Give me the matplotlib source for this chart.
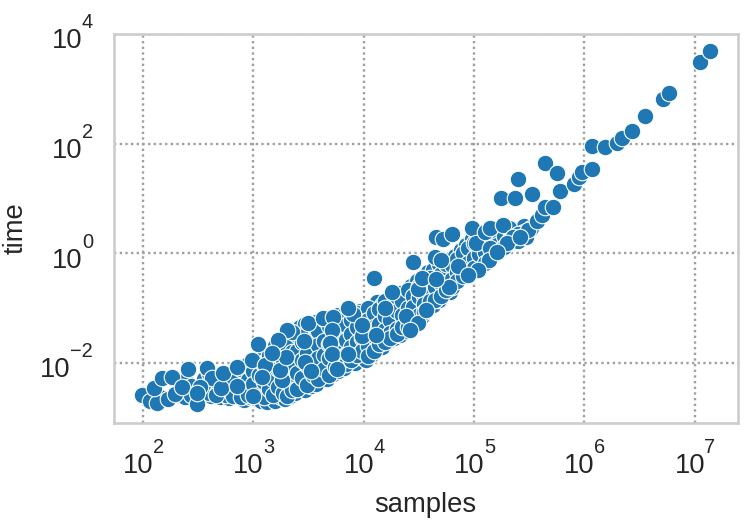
import numpy as np
import matplotlib
matplotlib.use('Agg')
import matplotlib.pyplot as plt

# values, kept as powers of ten
dense_x = [
    2.62, 2.62, 2.70, 2.70, 2.78, 2.78, 2.78, 2.86, 2.86, 2.86,
    2.92, 2.92, 2.92, 2.92, 2.97, 2.97, 2.97, 3.03, 3.03, 3.03, 3.03,
    3.07, 3.07, 3.07, 3.07, 3.12, 3.12, 3.12, 3.12, 3.16, 3.16, 3.16,
    3.20, 3.20, 3.20, 3.20, 3.20, 3.25, 3.25, 3.25, 3.25, 3.25,
    3.29, 3.29, 3.29, 3.29, 3.29, 3.29, 3.33, 3.33, 3.33, 3.33, 3.33,
    3.38, 3.38, 3.38, 3.38, 3.38, 3.42, 3.42, 3.42, 3.42, 3.42,
    3.47, 3.47, 3.47, 3.47, 3.52, 3.52, 3.52, 3.52, 3.52,
    3.57, 3.57, 3.57, 3.57, 3.57, 3.62, 3.62, 3.62, 3.62, 3.62,
    3.67, 3.67, 3.67, 3.67, 3.67, 3.72, 3.72, 3.72, 3.72,
    3.77, 3.77, 3.77, 3.77, 3.77, 3.82, 3.82, 3.82, 3.82, 3.82,
    3.87, 3.87, 3.87, 3.87, 3.92, 3.92, 3.92, 3.92,
    3.97, 3.97, 3.97, 3.97, 4.02, 4.02, 4.02, 4.02, 4.02,
    4.07, 4.07, 4.07, 4.07, 4.12, 4.12, 4.12, 4.12,
    4.17, 4.17, 4.17, 4.17, 4.22, 4.22, 4.22, 4.22,
    4.28, 4.28, 4.28, 4.28, 4.33, 4.33, 4.33, 4.33,
    4.38, 4.38, 4.38, 4.38, 4.43, 4.43, 4.43, 4.43,
    4.48, 4.48, 4.48, 4.48, 4.53, 4.53, 4.53, 4.53,
    4.58, 4.58, 4.58, 4.58, 4.63, 4.63, 4.63, 4.63,
    4.68, 4.68, 4.68, 4.68, 4.73, 4.73, 4.73,
    4.78, 4.78, 4.78, 4.78, 4.83, 4.83, 4.83,
    4.88, 4.88, 4.88, 4.93, 4.93, 4.93, 4.98, 4.98, 4.98,
    5.03, 5.03, 5.03, 5.08, 5.08, 5.08, 5.13, 5.13, 5.13,
    5.18, 5.18, 5.23, 5.23, 5.23, 5.28, 5.28, 5.33, 5.33,
    5.38, 5.38, 5.45, 5.45,
]
dense_y = [
    -2.45, -2.60, -2.33, -2.62, -2.25, -2.50, -2.64, -2.20, -2.37, -2.58,
    -2.10, -2.30, -2.52, -2.68, -2.20, -2.44, -2.63, -2.05, -2.33, -2.50, -2.66,
    -1.90, -2.15, -2.42, -2.70, -1.95, -2.28, -2.55, -2.72, -2.10, -2.40, -2.62,
    -1.70, -1.95, -2.20, -2.50, -2.70, -1.60, -1.85, -2.05, -2.40, -2.62,
    -1.50, -1.75, -2.00, -2.25, -2.52, -2.66, -1.60, -1.90, -2.15, -2.42, -2.60,
    -1.45, -1.70, -2.00, -2.30, -2.55, -1.35, -1.55, -1.85, -2.10, -2.45,
    -1.30, -1.75, -2.20, -2.50, -1.42, -1.65, -1.90, -2.30, -2.42,
    -1.25, -1.55, -1.80, -2.05, -2.38, -1.30, -1.50, -1.70, -1.95, -2.25,
    -1.22, -1.45, -1.75, -2.00, -2.30, -1.30, -1.55, -1.90, -2.20,
    -1.12, -1.35, -1.62, -1.85, -2.15, -1.20, -1.45, -1.70, -1.98, -2.10,
    -1.15, -1.38, -1.60, -1.90, -1.25, -1.50, -1.75, -2.00,
    -1.05, -1.40, -1.65, -1.90, -1.10, -1.30, -1.55, -1.80, -1.95,
    -1.00, -1.20, -1.60, -1.85, -0.90, -1.15, -1.40, -1.70,
    -0.95, -1.25, -1.50, -1.72, -0.85, -1.10, -1.35, -1.60,
    -0.90, -1.15, -1.30, -1.55, -0.72, -1.00, -1.25, -1.50,
    -0.75, -0.90, -1.30, -1.42, -0.60, -0.85, -1.10, -1.25,
    -0.50, -0.90, -1.05, -1.20, -0.70, -0.85, -1.00, -1.15,
    -0.35, -0.60, -0.80, -0.95, -0.30, -0.55, -0.75, -0.95,
    -0.20, -0.60, -0.70, -0.85, -0.30, -0.45, -0.75,
    -0.10, -0.35, -0.55, -0.70, -0.05, -0.20, -0.45,
    0.05, -0.15, -0.35, 0.15, -0.10, -0.30, 0.25, 0.00, -0.20,
    0.30, 0.05, -0.15, 0.30, 0.10, -0.10, 0.35, 0.20, -0.02,
    0.35, 0.15, 0.40, 0.20, 0.10, 0.38, 0.25, 0.40, 0.30,
    0.42, 0.28, 0.50, 0.38,
]

fill_x = [
    2.03, 2.08, 2.08, 2.15, 2.32, 2.38, 2.38, 2.44, 2.44,
    2.55, 2.55, 2.60, 2.60, 2.68, 2.68, 2.75, 2.75, 2.82, 2.82,
    2.89, 2.89, 2.89, 2.95, 2.95, 2.95, 3.00, 3.00, 3.05, 3.05,
    3.10, 3.10, 3.10, 3.14, 3.14, 3.14, 3.18, 3.18, 3.18,
    3.22, 3.22, 3.22, 3.27, 3.27, 3.27, 3.27, 3.31, 3.31, 3.31, 3.31,
    3.35, 3.35, 3.35, 3.40, 3.40, 3.40, 3.40, 3.44, 3.44, 3.44,
    3.49, 3.49, 3.49, 3.49, 3.54, 3.54, 3.54, 3.54, 3.59, 3.59, 3.59, 3.59,
    3.64, 3.64, 3.64, 3.64, 3.69, 3.69, 3.69, 3.69, 3.74, 3.74, 3.74, 3.74,
    3.79, 3.79, 3.79, 3.79, 3.84, 3.84, 3.84, 3.84, 3.84,
    3.89, 3.89, 3.89, 3.89, 3.94, 3.94, 3.94, 3.94, 3.99, 3.99, 3.99,
    4.04, 4.04, 4.04, 4.04, 4.04, 4.09, 4.09, 4.09, 4.09,
    4.14, 4.14, 4.14, 4.14, 4.19, 4.19, 4.19, 4.19, 4.24, 4.24, 4.24, 4.24,
    4.30, 4.30, 4.30, 4.30, 4.35, 4.35, 4.35, 4.40, 4.40, 4.40, 4.40,
    4.45, 4.45, 4.45, 4.50, 4.50, 4.50, 4.55, 4.55, 4.55, 4.55,
    4.60, 4.60, 4.60, 4.65, 4.65, 4.70, 4.70, 4.70, 4.75, 4.75, 4.75,
    4.80, 4.80, 4.80, 4.85, 4.85, 4.85, 4.90, 4.90, 4.90, 4.95, 4.95,
    5.00, 5.00, 5.00, 5.05, 5.05, 5.10, 5.10, 5.10, 5.16, 5.16,
    5.21, 5.21, 5.27, 5.27, 5.32, 5.32, 5.40, 5.40, 5.47, 5.52,
]
fill_y = [
    -2.62, -2.66, -2.55, -2.62, -2.58, -2.62, -2.32, -2.42, -2.58,
    -2.30, -2.52, -2.18, -2.55, -2.28, -2.52, -2.38, -2.58, -2.30, -2.60,
    -2.12, -2.44, -2.62, -2.02, -2.32, -2.58, -2.15, -2.38, -2.22, -2.58,
    -2.05, -2.35, -2.62, -1.85, -2.18, -2.48, -2.02, -2.30, -2.58,
    -1.78, -2.12, -2.44, -1.55, -1.95, -2.30, -2.55, -1.68, -2.08, -2.35, -2.60,
    -1.80, -2.05, -2.50, -1.50, -1.78, -2.18, -2.48, -1.62, -1.95, -2.28,
    -1.48, -1.82, -2.05, -2.40, -1.32, -1.58, -1.98, -2.22, -1.42, -1.68, -1.92, -2.30,
    -1.20, -1.60, -1.85, -2.12, -1.33, -1.65, -1.92, -2.22, -1.18, -1.45, -1.78, -2.08,
    -1.25, -1.52, -1.90, -2.05, -1.08, -1.32, -1.58, -1.85, -2.02,
    -1.22, -1.48, -1.72, -1.95, -1.10, -1.35, -1.62, -1.85, -1.18, -1.55, -1.78,
    -1.00, -1.22, -1.45, -1.70, -1.88, -1.10, -1.35, -1.52, -1.78,
    -1.02, -1.30, -1.55, -1.65, -0.88, -1.15, -1.40, -1.62, -0.98, -1.22, -1.45, -1.55,
    -0.80, -1.05, -1.38, -1.48, -0.88, -1.12, -1.35, -0.68, -1.00, -1.20, -1.35,
    -0.78, -0.98, -1.18, -0.60, -0.80, -1.12, -0.50, -0.78, -0.92, -1.08,
    -0.45, -0.70, -0.88, -0.62, -0.85, -0.38, -0.55, -0.78, -0.20, -0.60, -0.68,
    -0.22, -0.48, -0.62, -0.10, -0.35, -0.50, 0.00, -0.25, -0.42, 0.10, -0.18,
    0.18, -0.08, -0.28, 0.20, -0.02, 0.22, 0.02, -0.18, 0.28, -0.05,
    0.30, 0.15, 0.32, 0.12, 0.45, 0.22, 0.35, 0.22, 0.30, 0.45,
]

top_x = [
    1.99, 2.06, 2.13, 2.10, 2.17, 2.26, 2.23, 2.29, 2.35, 2.41,
    2.58, 2.63, 2.52, 2.49, 2.49, 2.66, 2.71, 2.73, 2.85, 2.85,
    3.00, 3.04, 2.99, 3.11, 3.08, 3.26, 3.24, 3.30, 3.35, 3.31,
    3.22, 3.17, 3.46, 3.50, 3.47, 3.52, 3.63, 3.72, 3.71, 3.70,
    3.71, 3.76, 3.86, 3.90, 3.86, 3.99, 3.99, 4.11, 4.19, 4.26,
    4.09, 4.38, 4.49, 4.42, 4.45, 4.49, 4.53, 4.57, 4.65, 4.70,
    4.66, 4.72, 4.80, 4.98, 5.02, 5.10, 5.15, 5.15, 5.14, 4.86,
    5.04, 4.95, 4.77, 4.66, 5.26, 5.35, 5.30, 5.21, 5.49, 5.42,
    5.57, 5.62, 5.64, 5.72, 5.25, 5.37, 5.53, 5.40, 5.64, 5.75,
    5.78, 5.91, 5.95, 5.98, 6.07, 6.07, 6.19, 6.30, 6.34, 6.43,
    6.55, 6.71, 6.77, 7.05, 7.14,
]
top_y = [
    -2.59, -2.69, -2.73, -2.46, -2.28, -2.26, -2.66, -2.57, -2.44, -2.11,
    -2.09, -2.28, -2.44, -2.75, -2.55, -2.59, -2.46, -2.19, -2.42, -2.08,
    -2.61, -1.66, -1.95, -2.04, -2.26, -2.31, -2.13, -1.89, -1.44, -1.40,
    -1.58, -1.82, -1.61, -1.27, -1.99, -2.15, -1.18, -1.16, -1.40, -1.64,
    -1.84, -2.11, -1.84, -1.11, -1.00, -1.51, -1.31, -1.49, -1.00, -0.71,
    -0.45, -1.15, -1.27, -1.40, -0.16, -0.65, -0.45, -1.04, -0.07, -0.12,
    0.30, 0.26, 0.35, 0.46, 0.19, 0.39, 0.46, 0.09, -0.12, -0.23,
    -0.30, -0.40, -0.62, -0.47, 0.51, 0.30, 0.19, 0.02, 0.42, 0.30,
    0.59, 0.70, 0.84, 0.84, 1.01, 1.01, 1.08, 1.35, 1.65, 1.46,
    1.13, 1.26, 1.39, 1.48, 1.54, 1.96, 1.94, 2.01, 2.10, 2.23,
    2.50, 2.81, 2.92, 3.49, 3.69,
]

x_powers = [2, 3, 4, 5, 6, 7]
y_powers = [-2, 0, 2, 4]

plt.rcParams['font.family'] = ['Liberation Sans', 'DejaVu Sans']
TEXT_COLOR = '#262626'
PX = 0.72  # offsets below are in pixels at dpi 100


def power_label(ax, xy, transform, base_dx, exp_dx, dy, power):
    # "10" and the exponent are separate so the exponent sits clear of the digits
    ax.annotate('10', xy=xy, xycoords=transform,
                xytext=(base_dx * PX, dy * PX), textcoords='offset points', ha='right', va='baseline',
                fontsize=19.7, color=TEXT_COLOR, annotation_clip=False)
    ax.annotate(str(power).replace('-', '\u2212'), xy=xy, xycoords=transform,
                xytext=(exp_dx * PX, (dy + 20) * PX), textcoords='offset points', ha='right', va='baseline',
                fontsize=14.4, color=TEXT_COLOR, annotation_clip=False)


fig = plt.figure(figsize=(7.48, 5.29), dpi=100)
ax = fig.add_axes([113.5 / 748, 1 - 423 / 529, (738 - 113.5) / 748, (423 - 34) / 529])

samples = 10.0 ** np.array(dense_x + fill_x + top_x)
times = 10.0 ** np.array(dense_y + fill_y + top_y)
ax.scatter(samples, times, s=142, color='#1f77b4', edgecolors='white', linewidths=0.8, zorder=3)

ax.set_xscale('log')
ax.set_yscale('log')
ax.set_xlim(10 ** 1.733, 10 ** 7.394)
ax.set_ylim(10 ** -3.10, 1e4)
ax.set_xticks([10.0 ** p for p in x_powers])
ax.set_yticks([10.0 ** p for p in y_powers])
ax.minorticks_off()
ax.set_xticklabels([])
ax.set_yticklabels([])

ax.grid(True, linestyle=(0, (1, 1.4)), color='#a0a0a0', linewidth=1.7, zorder=0)
ax.set_axisbelow(True)
for spine in ax.spines.values():
    spine.set_color('#cccccc')
    spine.set_linewidth(1.9)
ax.tick_params(length=0)

for p in x_powers:
    power_label(ax, (10.0 ** p, 0), ax.get_xaxis_transform(), 10.5, 21, -50, p)
for p in y_powers:
    base_dx = -31.5 if p >= 0 else -43
    power_label(ax, (0, 10.0 ** p), ax.get_yaxis_transform(), base_dx, -20.5, -14.5, p)

ax.set_xlabel('samples', fontsize=19.7, color=TEXT_COLOR, va='baseline')
ax.xaxis.set_label_coords(0.5, -(511.5 - 423) / 389)
ax.set_ylabel('time', fontsize=19.7, color=TEXT_COLOR, va='baseline')
ax.yaxis.set_label_coords(-(113.5 - 22.5) / 624.5, 0.5)

plt.savefig('out.png', dpi=100)
plt.close()
